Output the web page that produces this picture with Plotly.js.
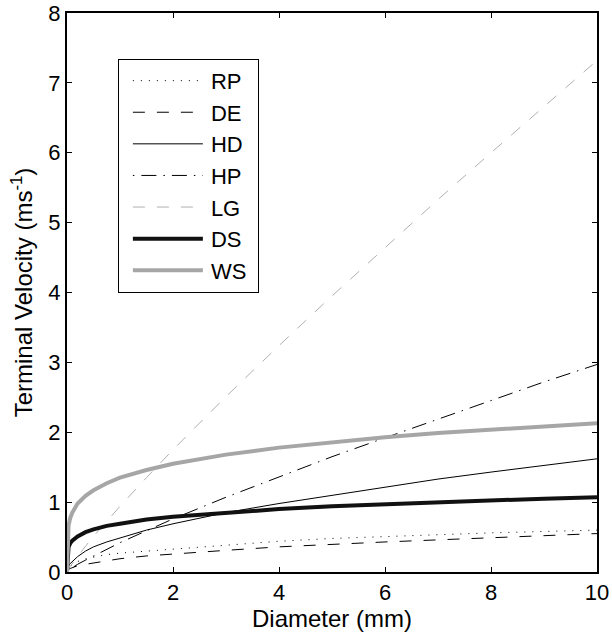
<!DOCTYPE html>
<html>
<head>
<meta charset="utf-8">
<script src="https://cdn.plot.ly/plotly-3.0.1.min.js"></script>
<style>html,body{margin:0;padding:0;background:#fff;}#chart{width:612px;height:637px;}</style>
</head>
<body>
<div id="chart"></div>
<script>
// Diameter (mm)
var diameter = [0, 0.01, 0.03, 0.06, 0.1, 0.2, 0.35, 0.5, 0.75, 1, 1.5, 2, 3, 4, 5, 6, 7, 8, 9, 10];
// Terminal velocity (m/s) per model
var RP = [0, 0.03, 0.06, 0.09, 0.11, 0.15, 0.19, 0.21, 0.25, 0.27, 0.30, 0.33, 0.39, 0.44, 0.48, 0.51, 0.54, 0.56, 0.58, 0.60];
var DE = [0, 0.02, 0.04, 0.05, 0.06, 0.09, 0.11, 0.13, 0.16, 0.19, 0.23, 0.26, 0.31, 0.36, 0.40, 0.43, 0.46, 0.49, 0.52, 0.55];
var HD = [0, 0.05, 0.09, 0.12, 0.15, 0.22, 0.30, 0.36, 0.43, 0.49, 0.60, 0.69, 0.85, 0.98, 1.10, 1.22, 1.33, 1.43, 1.52, 1.62];
var HP = [0, 0.01, 0.02, 0.04, 0.06, 0.11, 0.17, 0.23, 0.33, 0.42, 0.59, 0.76, 1.07, 1.36, 1.65, 1.92, 2.19, 2.46, 2.72, 2.97];
var LG = [0, 0.02, 0.04, 0.08, 0.12, 0.23, 0.37, 0.51, 0.73, 0.94, 1.35, 1.75, 2.51, 3.24, 3.95, 4.64, 5.33, 6.00, 6.66, 7.32];
var DS = [0, 0.29, 0.36, 0.41, 0.45, 0.51, 0.57, 0.61, 0.66, 0.69, 0.75, 0.79, 0.85, 0.90, 0.94, 0.97, 1.00, 1.03, 1.05, 1.07];
var WS = [0, 0.54, 0.67, 0.77, 0.85, 0.98, 1.09, 1.17, 1.27, 1.35, 1.46, 1.55, 1.68, 1.78, 1.86, 1.93, 1.99, 2.04, 2.09, 2.13];
var names = ['RP', 'DE', 'HD', 'HP', 'LG', 'DS', 'WS'];
var seriesList = [RP, DE, HD, HP, LG, DS, WS];
var xTicks = [0, 2, 4, 6, 8, 10];
var yTicks = [0, 1, 2, 3, 4, 5, 6, 7, 8];

var styles = [
  {color: '#000000', width: 1, dash: '1px,7px'},
  {color: '#000000', width: 1, dash: '12px,12px'},
  {color: '#000000', width: 1, dash: 'solid'},
  {color: '#000000', width: 1, dash: '1.5px,7px,15px,7px'},
  {color: '#b0b0b0', width: 1, dash: '12px,12px'},
  {color: '#111111', width: 4, dash: 'solid'},
  {color: '#a6a6a6', width: 4, dash: 'solid'}
];

var traces = names.map(function (n, i) {
  return {
    x: diameter, y: seriesList[i], name: n + '\u00a0', type: 'scatter', mode: 'lines',
    line: styles[i]
  };
});
var fam = 'Liberation Sans, Arial, Helvetica, sans-serif';
var font = {family: fam, size: 24, color: '#000'};
var tickFont = {family: fam, size: 22, color: '#000'};
var layout = {
  width: 612, height: 637,
  margin: {l: 67, r: 15, t: 13, b: 65},
  paper_bgcolor: '#fff', plot_bgcolor: '#fff',
  font: font,
  showlegend: true,
  legend: {
    x: 0.096, y: 0.918, xanchor: 'left', yanchor: 'top',
    bordercolor: '#000', borderwidth: 1, bgcolor: '#fff',
    font: {family: fam, size: 22, color: '#000'},
    itemwidth: 82
  },
  xaxis: {
    range: [0, 10], tickvals: xTicks, ticktext: xTicks.map(String),
    ticks: 'inside', ticklen: 5, tickcolor: '#000', tickwidth: 1,
    showline: true, linecolor: '#000', linewidth: 2, mirror: 'ticks',
    showgrid: false, zeroline: false, automargin: false,
    ticklabeloverflow: 'allow',
    tickfont: tickFont,
    title: {text: 'Diameter (mm)', font: font, standoff: 3}
  },
  yaxis: {
    range: [0, 8], tickvals: yTicks, ticktext: yTicks.map(String),
    ticks: 'inside', ticklen: 5, tickcolor: '#000', tickwidth: 1,
    showline: true, linecolor: '#000', linewidth: 2, mirror: 'ticks',
    showgrid: false, zeroline: false, automargin: false,
    ticklabeloverflow: 'allow',
    tickfont: tickFont,
    title: {text: 'Terminal Velocity (ms<sup>-1</sup>)', font: font, standoff: 9}
  }
};
Plotly.newPlot('chart', traces, layout, {displayModeBar: false, staticPlot: true}).then(function (gd) {
  // lengthen legend line samples to match the reference legend
  var paths = gd.querySelectorAll('.legend .legendlines path');
  paths.forEach(function (p) { p.setAttribute('d', 'M14,0h70'); });
});
</script>
</body>
</html>
